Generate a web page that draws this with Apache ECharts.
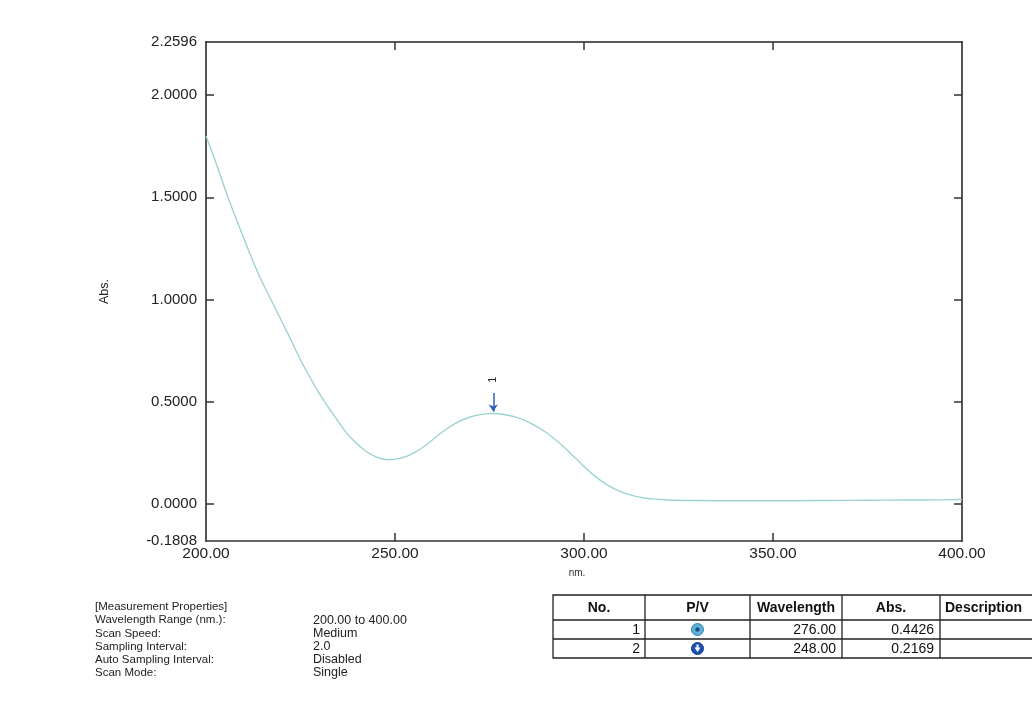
<!DOCTYPE html>
<html>
<head>
<meta charset="utf-8">
<style>
  html, body { margin: 0; padding: 0; background: #fff; }
  #chart { width: 1032px; height: 706px; }
</style>
<script src="https://cdn.jsdelivr.net/npm/echarts@6/dist/echarts.min.js"></script>
</head>
<body>
<div id="chart"></div>
<script>
// UV-Vis absorbance spectrum, 200-400 nm
const wavelengths = [200, 203, 206, 210, 214, 218, 222, 226, 230, 234, 238, 242, 245, 248, 251, 254, 258, 262, 266, 270, 274, 276, 278, 282, 286, 290, 294, 298, 302, 306, 310, 314, 318, 322, 330, 340, 350, 360, 370, 380, 390, 400];
const absorbance = [1.80, 1.65, 1.49, 1.30, 1.12, 0.97, 0.82, 0.67, 0.54, 0.43, 0.33, 0.262, 0.231, 0.2169, 0.222, 0.24, 0.285, 0.345, 0.395, 0.427, 0.441, 0.4426, 0.440, 0.425, 0.395, 0.35, 0.29, 0.22, 0.15, 0.095, 0.058, 0.036, 0.025, 0.02, 0.017, 0.016, 0.016, 0.017, 0.018, 0.019, 0.02, 0.022];

// axis ticks
const xTicks = [200, 250, 300, 350, 400];
const xInnerTicks = [250, 300, 350];
const yLabels = [-0.1808, 0, 0.5, 1.0, 1.5, 2.0, 2.2596];
const yTicks = [0, 0.5, 1.0, 1.5, 2.0];
const xMin = 200, xMax = 400, yMin = -0.1808, yMax = 2.2596;

// peak pick
const peakNm = 276.00, peakAbs = 0.4426;

// measurement properties block
const propNames = ['[Measurement Properties]', 'Wavelength Range (nm.):', 'Scan Speed:', 'Sampling Interval:', 'Auto Sampling Interval:', 'Scan Mode:'];
const propValues = ['', '200.00 to 400.00', 'Medium', '2.0', 'Disabled', 'Single'];

// peak / valley table
const tableHeaders = ['No.', 'P/V', 'Wavelength', 'Abs.', 'Description'];
const tableRows = [
  { no: '1', type: 'peak', wl: '276.00', abs: '0.4426' },
  { no: '2', type: 'valley', wl: '248.00', abs: '0.2169' }
];

const FONT = '"Liberation Sans", Arial, sans-serif';

const chart = echarts.init(document.getElementById('chart'), null, { renderer: 'canvas' });

const spectrum = wavelengths.map((w, i) => [w, absorbance[i]]);

// table layout
const colX = [553, 645, 750, 842, 940, 1040];
const rowY = [595, 620, 639, 658];
const tableGraphics = [];
tableGraphics.push({
  type: 'rect', shape: { x: colX[0], y: rowY[0], width: colX[5] - colX[0], height: rowY[3] - rowY[0] },
  style: { fill: 'none', stroke: '#222', lineWidth: 1.3 }, z: 10
});
for (let r = 1; r < rowY.length - 1; r++) {
  tableGraphics.push({ type: 'line', shape: { x1: colX[0], y1: rowY[r], x2: colX[5], y2: rowY[r] }, style: { stroke: '#222', lineWidth: 1.3 }, z: 10 });
}
for (let c = 1; c < colX.length - 1; c++) {
  tableGraphics.push({ type: 'line', shape: { x1: colX[c], y1: rowY[0], x2: colX[c], y2: rowY[3] }, style: { stroke: '#222', lineWidth: 1.3 }, z: 10 });
}
tableHeaders.forEach((h, c) => {
  const center = c < 4 ? (colX[c] + colX[c + 1]) / 2 : colX[c] + 5;
  tableGraphics.push({
    type: 'text', x: center, y: (rowY[0] + rowY[1]) / 2 + 1, z: 11,
    style: { text: h, font: 'bold 14px ' + FONT, fill: '#111', align: c < 4 ? 'center' : 'left', verticalAlign: 'middle' }
  });
});
tableRows.forEach((row, r) => {
  const cy = (rowY[r + 1] + rowY[r + 2]) / 2 + 1;
  const f = '14px ' + FONT;
  tableGraphics.push({ type: 'text', x: colX[1] - 5, y: cy, z: 11, style: { text: row.no, font: f, fill: '#111', align: 'right', verticalAlign: 'middle' } });
  tableGraphics.push({ type: 'text', x: colX[3] - 6, y: cy, z: 11, style: { text: row.wl, font: f, fill: '#111', align: 'right', verticalAlign: 'middle' } });
  tableGraphics.push({ type: 'text', x: colX[4] - 6, y: cy, z: 11, style: { text: row.abs, font: f, fill: '#111', align: 'right', verticalAlign: 'middle' } });
  const ix = (colX[1] + colX[2]) / 2;
  if (row.type === 'peak') {
    tableGraphics.push({ type: 'circle', shape: { cx: ix, cy: cy - 1, r: 6 }, style: { fill: '#5db3d8', stroke: '#2e7fb3', lineWidth: 1 }, z: 11 });
    tableGraphics.push({ type: 'circle', shape: { cx: ix, cy: cy - 1, r: 2.2 }, style: { fill: '#1b4f86' }, z: 12 });
  } else {
    tableGraphics.push({ type: 'circle', shape: { cx: ix, cy: cy - 1, r: 6 }, style: { fill: '#1d4fb5', stroke: '#143a8a', lineWidth: 1 }, z: 11 });
    tableGraphics.push({ type: 'polygon', shape: { points: [[ix - 3, cy - 2], [ix + 3, cy - 2], [ix, cy + 2.5]] }, style: { fill: '#fff' }, z: 12 });
    tableGraphics.push({ type: 'rect', shape: { x: ix - 1, y: cy - 5, width: 2, height: 3.5 }, style: { fill: '#fff' }, z: 12 });
  }
});

// properties text
const propGraphics = [];
propNames.forEach((name, i) => {
  const y = 607 + i * 13.2;
  propGraphics.push({ type: 'text', x: 95, y: y, style: { text: name, font: '11.5px ' + FONT, fill: '#222', verticalAlign: 'middle' } });
  if (propValues[i]) {
    propGraphics.push({ type: 'text', x: 313, y: y, style: { text: propValues[i], font: '12.5px ' + FONT, fill: '#222', verticalAlign: 'middle' } });
  }
});

const tickStyle = { show: true, inside: true, length: 8, lineStyle: { color: '#333', width: 1.5 } };

chart.setOption({
  backgroundColor: '#fff',
  animation: false,
  grid: { left: 206, right: 70, top: 42, bottom: 165 },
  xAxis: [
    {
      type: 'value', min: xMin, max: xMax, position: 'bottom',
      name: 'nm.', nameLocation: 'middle', nameGap: 27,
      nameTextStyle: { fontFamily: FONT, fontSize: 10, color: '#333', padding: [0, 14, 0, 0] },
      axisLine: { show: true, onZero: false, lineStyle: { color: '#333', width: 1.6 } },
      axisTick: Object.assign({ customValues: xInnerTicks }, tickStyle),
      axisLabel: {
        customValues: xTicks, margin: 5, fontFamily: FONT, fontSize: 15.5, color: '#222',
        formatter: v => v.toFixed(2)
      },
      splitLine: { show: false }
    },
    {
      type: 'value', min: xMin, max: xMax, position: 'top',
      axisLine: { show: true, onZero: false, lineStyle: { color: '#222', width: 1.6 } },
      axisTick: Object.assign({ customValues: xInnerTicks }, tickStyle),
      axisLabel: { show: false },
      splitLine: { show: false }
    }
  ],
  yAxis: [
    {
      type: 'value', min: yMin, max: yMax, position: 'left',
      name: 'Abs.', nameLocation: 'middle', nameGap: 95, nameRotate: 90,
      nameTextStyle: { fontFamily: FONT, fontSize: 12.5, color: '#222' },
      axisLine: { show: true, onZero: false, lineStyle: { color: '#555', width: 2 } },
      axisTick: Object.assign({ customValues: yTicks }, tickStyle),
      axisLabel: {
        customValues: yLabels, margin: 9, fontFamily: FONT, fontSize: 15, color: '#222',
        formatter: v => v.toFixed(4)
      },
      splitLine: { show: false }
    },
    {
      type: 'value', min: yMin, max: yMax, position: 'right',
      axisLine: { show: true, onZero: false, lineStyle: { color: '#555', width: 2 } },
      axisTick: Object.assign({ customValues: yTicks }, tickStyle),
      axisLabel: { show: false },
      splitLine: { show: false }
    }
  ],
  series: [
    {
      type: 'line',
      data: spectrum,
      smooth: 0.4,
      showSymbol: false,
      lineStyle: { color: '#9dd3d4', width: 1.4 },
      markLine: {
        silent: true,
        symbol: ['none', 'arrow'],
        symbolSize: 7,
        lineStyle: { color: '#2f5fb8', width: 1.5, type: 'solid' },
        label: { show: false },
        data: [[{ coord: [peakNm, peakAbs + 0.10] }, { coord: [peakNm, peakAbs + 0.01] }]]
      },
      markPoint: {
        silent: true,
        symbol: 'circle',
        symbolSize: 0,
        label: {
          show: true, formatter: '1', rotate: 90, fontFamily: FONT, fontSize: 11, color: '#222', position: 'inside'
        },
        data: [{ coord: [peakNm, peakAbs + 0.165] }]
      }
    }
  ],
  graphic: propGraphics.concat(tableGraphics)
});
</script>
</body>
</html>
